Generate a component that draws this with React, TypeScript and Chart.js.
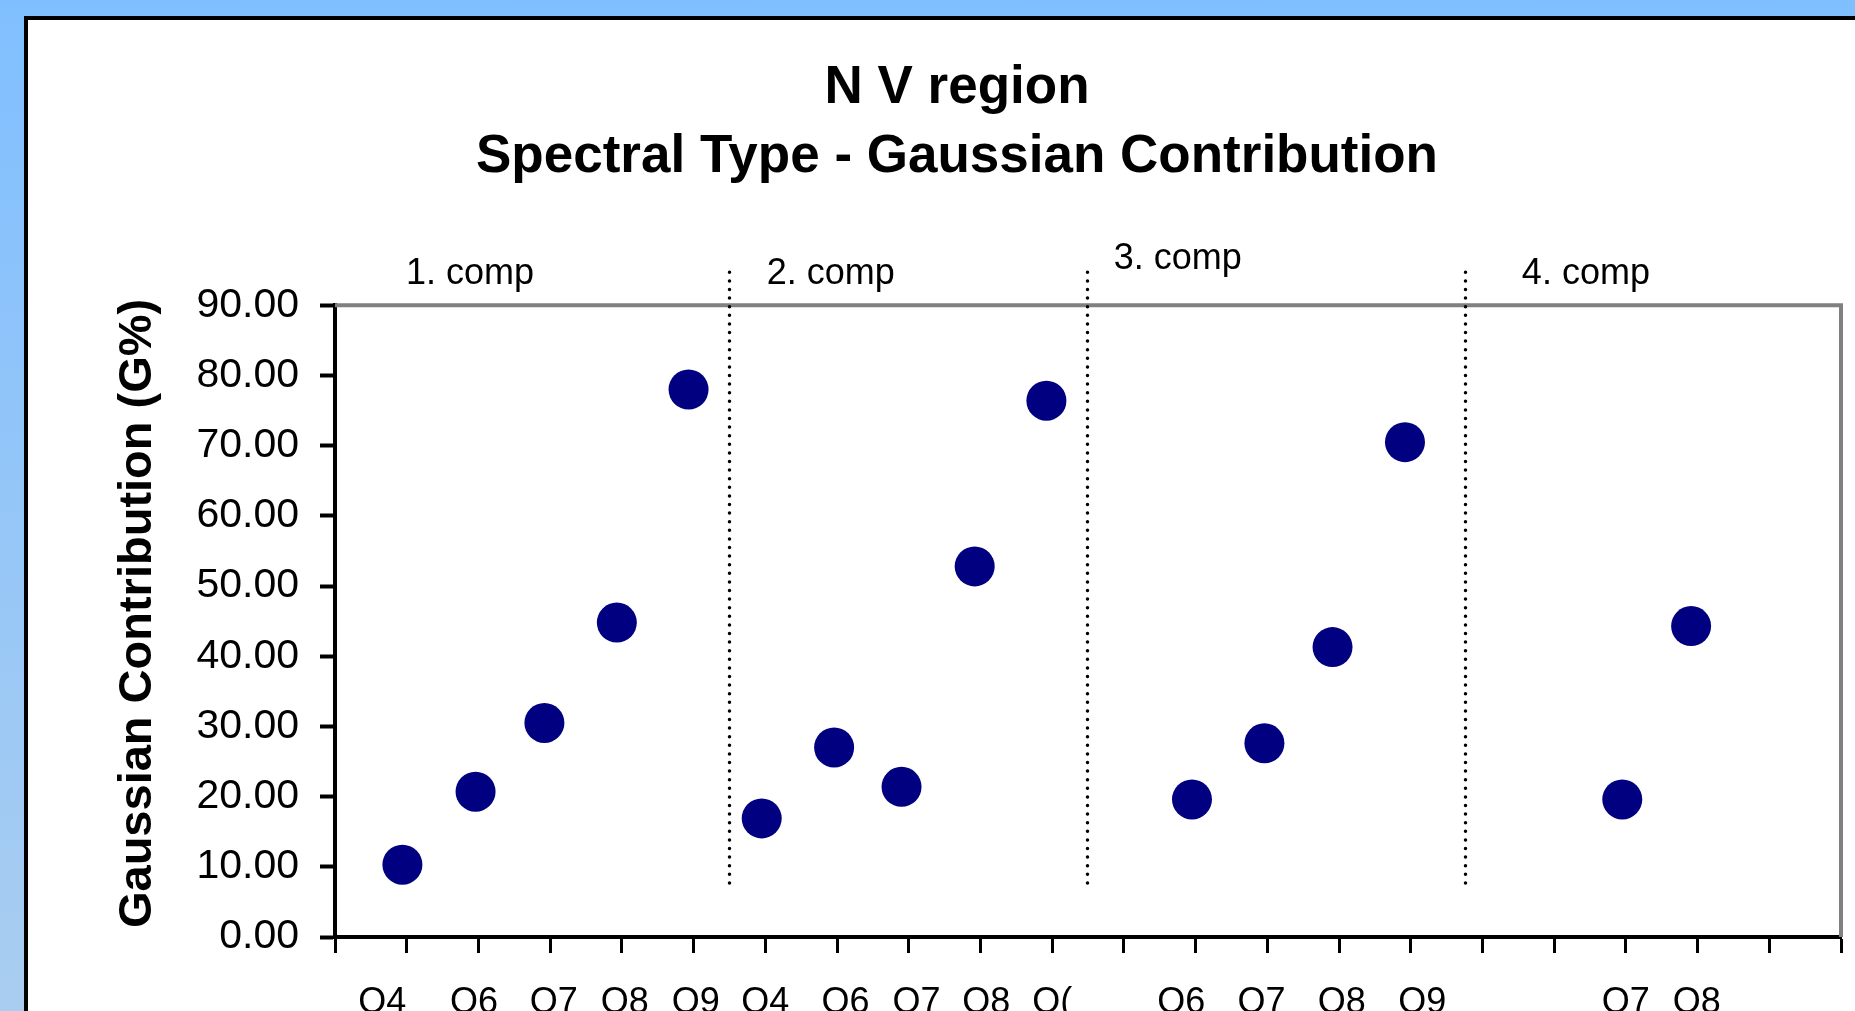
import React, { useEffect, useRef } from 'react';
import { Chart, registerables } from 'chart.js';

Chart.register(...registerables);

// ---- data ----
const comp1Types = ['O4', 'O6', 'O7', 'O8', 'O9'];
const comp1X = [0.94, 1.96, 2.92, 3.93, 4.93];
const comp1Values = [10.3, 20.7, 30.5, 44.8, 78.0];

const comp2Types = ['O4', 'O6', 'O7', 'O8', 'O('];
const comp2X = [5.95, 6.96, 7.9, 8.92, 9.92];
const comp2Values = [16.9, 27.0, 21.4, 52.8, 76.4];

const comp3Types = ['O6', 'O7', 'O8', 'O9'];
const comp3X = [11.95, 12.96, 13.91, 14.92];
const comp3Values = [19.6, 27.6, 41.3, 70.5];

const comp4Types = ['O7', 'O8'];
const comp4X = [17.95, 18.91];
const comp4Values = [19.6, 44.3];

// x-axis label positions (axis units) as printed under the axis
const typeLabelX = [0.66, 1.94, 3.05, 4.04, 5.03, 6.0, 7.12, 8.11, 9.08, 10.0, 11.8, 12.92, 14.04, 15.16, 18.0, 18.99];
const typeLabels = [...comp1Types, ...comp2Types, ...comp3Types, ...comp4Types];

const compNames = ['1. comp', '2. comp', '3. comp', '4. comp'];
const compNameX = [0.99, 6.02, 10.86, 16.55];
const compNameY = [94.4, 94.4, 96.6, 94.4];

const dividerX = [5.5, 10.48, 15.76];
const dividerYRange = [7.7, 94.7];

const xTickValues = [0, 1, 2, 3, 4, 5, 6, 7, 8, 9, 10, 11, 12, 13, 14, 15, 16, 17, 18, 19, 20, 21];
const yTickValues = [0, 10, 20, 30, 40, 50, 60, 70, 80, 90];

const titleLines = ['N V region', 'Spectral Type - Gaussian Contribution'];
const yTitle = 'Gaussian Contribution (G%)';
const yTitleCenterValue = 46.1;

const FONT = '"Liberation Sans", Arial, Helvetica, sans-serif';
const NAVY = '#000080';

const toPoints = (xs: number[], ys: number[]) => xs.map((x, i) => ({ x, y: ys[i] }));

const overlayPlugin = {
  id: 'overlay',
  beforeDatasetsDraw(chart: any) {
    const { ctx, chartArea: a } = chart;
    ctx.save();
    ctx.strokeStyle = '#808080';
    ctx.lineWidth = 4;
    ctx.beginPath();
    ctx.moveTo(a.left, a.top);
    ctx.lineTo(a.right, a.top);
    ctx.lineTo(a.right, a.bottom);
    ctx.stroke();
    ctx.restore();
  },
  afterDraw(chart: any) {
    const { ctx } = chart;
    const xs = chart.scales.x;
    const ys = chart.scales.y;
    ctx.save();
    ctx.strokeStyle = '#000';
    ctx.lineWidth = 3.5;
    ctx.lineCap = 'round';
    ctx.setLineDash([0, 8.6]);
    dividerX.forEach((d) => {
      const px = Math.round(xs.getPixelForValue(d)) + 0.5;
      ctx.beginPath();
      ctx.moveTo(px, ys.getPixelForValue(dividerYRange[1]));
      ctx.lineTo(px, ys.getPixelForValue(dividerYRange[0]));
      ctx.stroke();
    });
    ctx.setLineDash([]);
    ctx.fillStyle = '#000';
    ctx.font = `36px ${FONT}`;
    ctx.textAlign = 'left';
    ctx.textBaseline = 'middle';
    compNames.forEach((n, i) => {
      ctx.fillText(n, xs.getPixelForValue(compNameX[i]), ys.getPixelForValue(compNameY[i]));
    });
    // y-axis title
    ctx.save();
    ctx.font = `bold 47px ${FONT}`;
    ctx.textAlign = 'center';
    ctx.textBaseline = 'middle';
    ctx.translate(ys.left + 65, ys.getPixelForValue(yTitleCenterValue));
    ctx.rotate(-Math.PI / 2);
    ctx.fillText(yTitle, 0, 0);
    ctx.restore();
    ctx.restore();
  },
};

export default function App() {
  const canvasRef = useRef<HTMLCanvasElement | null>(null);

  useEffect(() => {
    const canvas = canvasRef.current;
    if (!canvas) return;
    const dsStyle = {
      backgroundColor: NAVY,
      borderColor: NAVY,
      pointRadius: 20,
      pointHoverRadius: 20,
      pointBorderWidth: 0,
      pointStyle: 'circle',
      showLine: false,
    };
    const chart = new Chart(canvas, {
      type: 'scatter',
      data: {
        datasets: [
          { label: '1. comp', data: toPoints(comp1X, comp1Values), ...dsStyle },
          { label: '2. comp', data: toPoints(comp2X, comp2Values), ...dsStyle },
          { label: '3. comp', data: toPoints(comp3X, comp3Values), ...dsStyle },
          { label: '4. comp', data: toPoints(comp4X, comp4Values), ...dsStyle },
        ],
      },
      options: {
        animation: false,
        responsive: false,
        devicePixelRatio: 1,
        layout: { autoPadding: false, padding: { left: 45, right: 14, top: 0, bottom: 20 } },
        plugins: {
          legend: { display: false },
          tooltip: { enabled: false },
          title: {
            display: true,
            text: titleLines,
            color: '#000',
            font: { family: FONT, size: 53, weight: 'bold', lineHeight: 1.295 },
            padding: { top: 34, bottom: 114 },
          },
        },
        scales: {
          x: {
            type: 'linear',
            position: 'bottom',
            weight: 0,
            min: 0,
            max: 21,
            afterBuildTicks: (s: any) => {
              s.ticks = xTickValues.map((v) => ({ value: v }));
            },
            afterFit: (s: any) => {
              s.height = 16;
            },
            ticks: { display: false },
            grid: {
              display: true,
              drawOnChartArea: false,
              drawTicks: true,
              tickLength: 16,
              tickColor: '#000',
              tickWidth: 3,
            },
            border: { display: true, color: '#000', width: 4 },
          },
          xl: {
            type: 'linear',
            position: 'bottom',
            weight: 1,
            min: 0,
            max: 21,
            afterBuildTicks: (s: any) => {
              s.ticks = typeLabelX.map((v) => ({ value: v }));
            },
            afterFit: (s: any) => {
              s.height = 71;
            },
            ticks: {
              autoSkip: false,
              maxRotation: 0,
              minRotation: 0,
              padding: 28,
              color: '#000',
              font: { family: FONT, size: 36 },
              callback: (_v: any, i: number) => typeLabels[i],
            },
            grid: { display: false, drawTicks: false },
            border: { display: false },
          },
          y: {
            type: 'linear',
            position: 'left',
            min: 0,
            max: 90,
            afterBuildTicks: (s: any) => {
              s.ticks = yTickValues.map((v) => ({ value: v }));
            },
            afterFit: (s: any) => {
              s.width = 262;
            },
            ticks: {
              padding: 21,
              color: '#000',
              font: { family: FONT, size: 41 },
              callback: (v: any) => Number(v).toFixed(2),
            },
            grid: {
              display: true,
              drawOnChartArea: false,
              drawTicks: true,
              tickLength: 15,
              tickColor: '#000',
              tickWidth: 4,
            },
            border: { display: true, color: '#000', width: 4 },
            title: { display: false },
          },
        },
      },
      plugins: [overlayPlugin],
    } as any);
    return () => chart.destroy();
  }, []);

  return (
    <div
      style={{
        position: 'fixed',
        left: 0,
        top: 0,
        width: '100vw',
        height: '100vh',
        overflow: 'hidden',
        background: 'linear-gradient(to bottom, #80BFFF 0%, #A9CDF0 100%)',
      }}
    >
      <div
        style={{
          position: 'absolute',
          left: 24,
          top: 16,
          width: 1900,
          height: 1100,
          border: '4px solid #000',
          background: '#fff',
        }}
      >
        <canvas
          ref={canvasRef}
          width={1827}
          height={1024}
          style={{ position: 'absolute', left: 0, top: 0, width: 1827, height: 1024 }}
        />
      </div>
    </div>
  );
}
